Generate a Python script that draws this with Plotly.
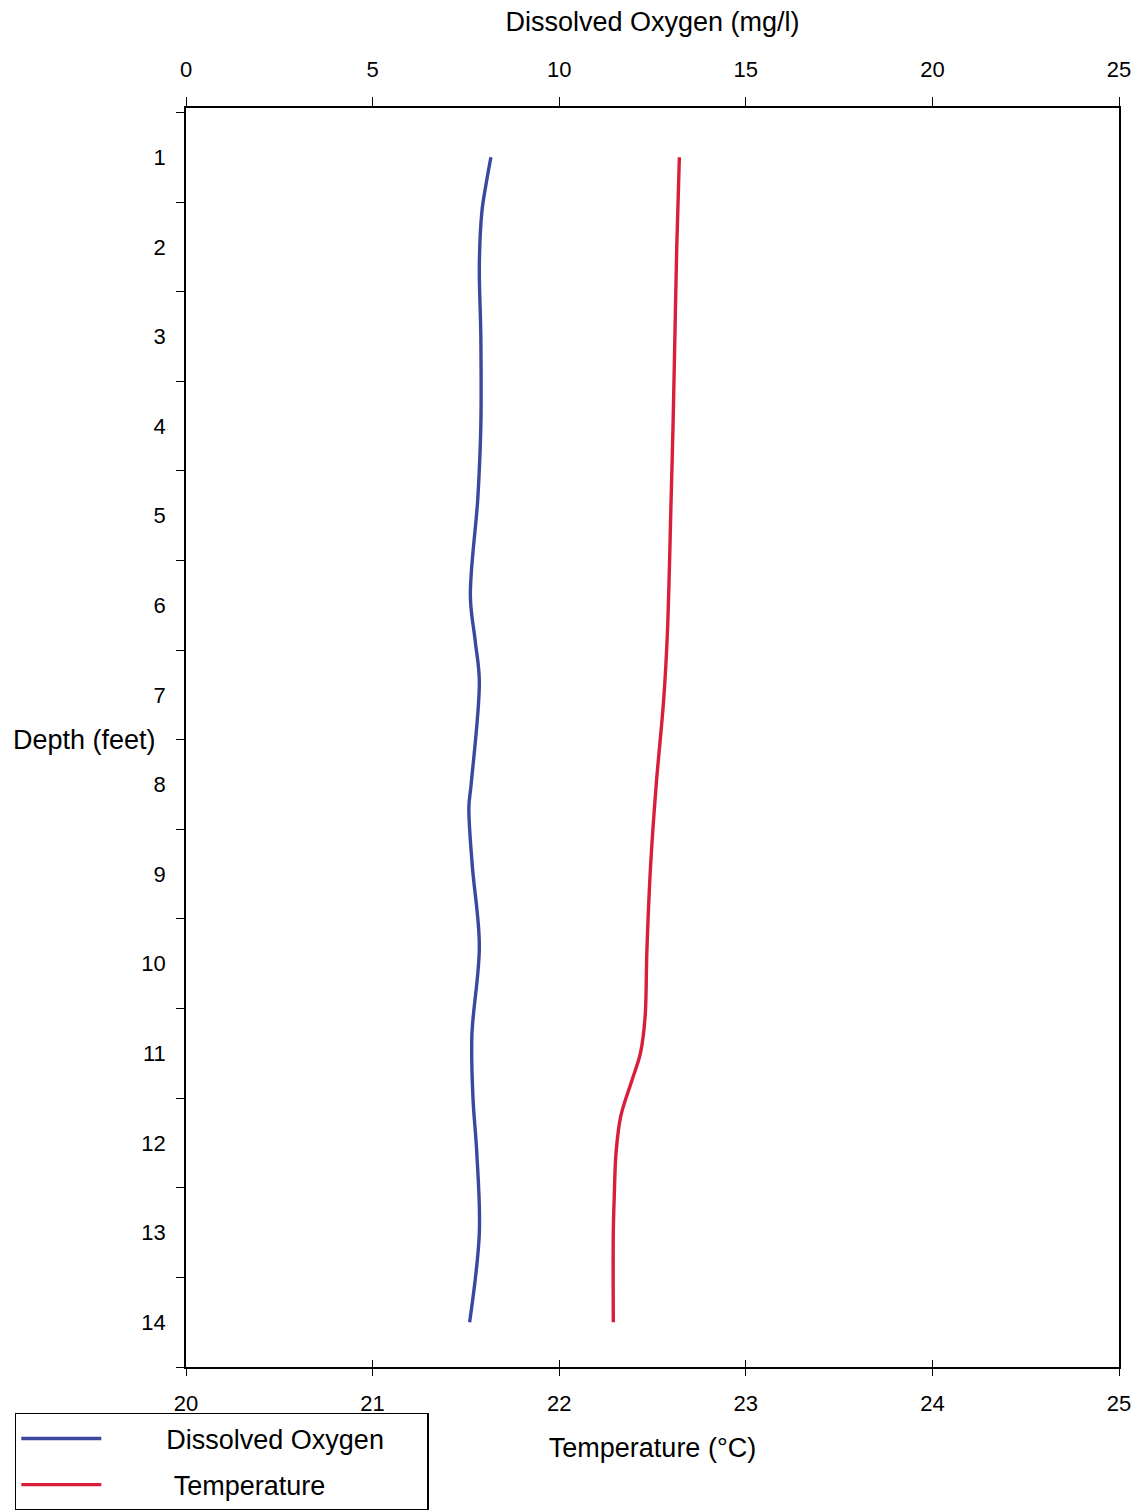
import plotly.graph_objects as go

# Data
depth_do = [1.0, 1.3, 1.6, 2.2, 3.0, 4.0, 4.8, 5.9, 6.4, 6.85, 8.0, 8.25, 8.9, 9.8, 10.8, 11.5, 12.1, 13.0, 14.0]
do_vals = [8.17, 8.04, 7.93, 7.86, 7.90, 7.90, 7.82, 7.62, 7.75, 7.86, 7.64, 7.58, 7.67, 7.86, 7.66, 7.69, 7.79, 7.86, 7.60]

depth_t = [1.0, 2.0, 3.0, 4.0, 4.8, 6.3, 7.05, 8.0, 8.9, 9.85, 10.6, 11.0, 11.3, 11.7, 12.1, 12.6, 13.0, 14.0]
temp_vals = [22.644, 22.63, 22.62, 22.61, 22.60, 22.58, 22.56, 22.52, 22.49, 22.47, 22.46, 22.435, 22.39, 22.33, 22.305, 22.295, 22.29, 22.29]

depth_ticks = list(range(1, 15))
do_ticks = [0, 5, 10, 15, 20, 25]
temp_ticks = [20, 21, 22, 23, 24, 25]

FONT = "Liberation Sans, Arial, Helvetica, sans-serif"
BLUE = "rgb(58,72,158)"
RED = "rgb(216,30,56)"
NB = "\u00a0"

fig = go.Figure()
fig.add_trace(go.Scatter(x=do_vals, y=depth_do, xaxis="x2", yaxis="y", mode="lines",
                         name=NB * 8 + "Dissolved Oxygen" + NB * 5, legendgroup="a",
                         line=dict(color=BLUE, width=3.4, shape="spline", smoothing=1.0)))
fig.add_trace(go.Scatter(x=temp_vals, y=depth_t, xaxis="x", yaxis="y", mode="lines",
                         name=NB * 9 + "Temperature", legendgroup="b",
                         line=dict(color=RED, width=3.4, shape="spline", smoothing=1.0)))
# invisible trace to host the inside tick axis on bottom
fig.add_trace(go.Scatter(x=[20, 25], y=[None, None], xaxis="x3", yaxis="y", mode="lines",
                         showlegend=False, hoverinfo="skip"))

fig.update_layout(
    width=1141, height=1510,
    margin=dict(l=186, r=22, t=108, b=143, autoexpand=False),
    paper_bgcolor="white", plot_bgcolor="white",
    font=dict(family=FONT, size=22, color="black"),
    xaxis=dict(range=[20, 25], tickvals=temp_ticks, side="bottom", automargin=False,
               showline=True, linecolor="black", linewidth=1.5,
               ticks="outside", ticklen=7, tickwidth=1.3, tickcolor="black",
               ticklabelstandoff=9, showgrid=False, zeroline=False,
               title=dict(text="Temperature (°C)", standoff=23,
                          font=dict(size=27))),
    xaxis2=dict(range=[0, 25], tickvals=do_ticks, side="top", overlaying="x", automargin=False,
                showline=True, linecolor="black", linewidth=1.5,
                ticks="outside", ticklen=9, tickwidth=1.3, tickcolor="black",
                ticklabelstandoff=11, showgrid=False, zeroline=False,
                title=dict(text="Dissolved Oxygen (mg/l)", standoff=18,
                           font=dict(size=27))),
    xaxis3=dict(range=[20, 25], tickvals=temp_ticks, side="bottom", overlaying="x", automargin=False,
                showline=False, ticks="inside", ticklen=7, tickwidth=1.3, tickcolor="black",
                showticklabels=False, showgrid=False, zeroline=False),
    yaxis=dict(range=[14.5, 0.45], tickvals=depth_ticks, ticks="", automargin=False,
               showline=True, linecolor="black", linewidth=1.5, mirror=True,
               ticklabelstandoff=14, showgrid=False, zeroline=False,
               minor=dict(ticks="outside", ticklen=8, tickwidth=1.3, tickcolor="black",
                          tick0=0.5, dtick=1, showgrid=False)),
    legend=dict(x=-0.1835, y=-0.0365, xanchor="left", yanchor="top",
                bordercolor="black", borderwidth=1.5, bgcolor="white",
                itemwidth=80, font=dict(size=27), tracegroupgap=8),
    showlegend=True,
)

fig.add_annotation(text="Depth (feet)", xref="paper", yref="y", x=-0.030, y=7.5,
                   xanchor="right", yanchor="middle", showarrow=False,
                   font=dict(size=27))

fig.write_html("out.html", config={"displayModeBar": False},
               post_script="document.body.style.margin='0';")
